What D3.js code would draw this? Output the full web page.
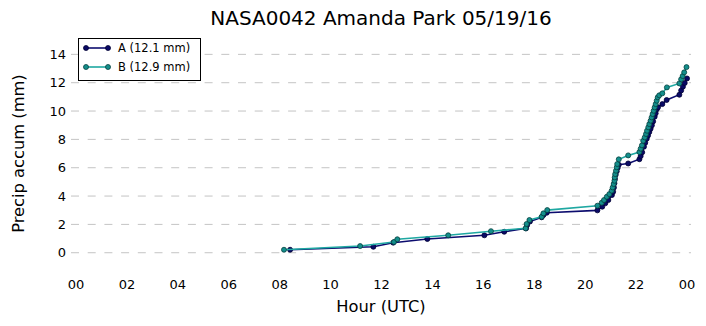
<!DOCTYPE html>
<html>
<head>
<meta charset="utf-8">
<script src="https://cdn.jsdelivr.net/npm/d3@7"></script>
<style>
  html, body { margin: 0; padding: 0; background: #fff; }
  svg { display: block; font-family: "DejaVu Sans", sans-serif; }
</style>
</head>
<body>
<svg id="chart" width="706" height="326"></svg>
<script>
// Gauge A accumulation: hour (UTC), accumulated precip (mm)
const hoursA = [8.41, 11.68, 12.46, 13.80, 16.04, 16.82, 17.68, 17.72, 17.83, 18.29, 18.36, 18.49,
  20.48, 20.67, 20.79, 20.91, 21.05, 21.10, 21.13, 21.15, 21.17, 21.20, 21.24, 21.28, 21.32,
  21.69, 22.13, 22.18, 22.24, 22.31, 22.36, 22.42, 22.47, 22.52, 22.57, 22.62, 22.67, 22.73,
  22.77, 22.81, 22.86, 23.03, 23.20, 23.70, 23.77, 23.84, 23.91, 24.00];
const precipA = [0.21, 0.42, 0.71, 0.97, 1.23, 1.48, 1.72, 1.95, 2.20, 2.50, 2.66, 2.82,
  2.99, 3.25, 3.49, 3.72, 4.07, 4.30, 4.60, 4.90, 5.20, 5.50, 5.75, 6.00, 6.21,
  6.30, 6.60, 6.82, 7.09, 7.48, 7.76, 8.05, 8.28, 8.52, 8.75, 8.99, 9.27, 9.60,
  9.84, 10.12, 10.26, 10.49, 10.78, 11.15, 11.45, 11.72, 11.98, 12.30];

// Gauge B accumulation
const hoursB = [8.17, 11.16, 12.49, 12.62, 14.62, 16.30, 17.66, 17.70, 17.81, 18.29, 18.36, 18.51,
  20.48, 20.65, 20.74, 20.85, 20.95, 21.04, 21.08, 21.12, 21.15, 21.16, 21.18, 21.21, 21.24,
  21.26, 21.32, 21.69, 22.13, 22.18, 22.23, 22.28, 22.34, 22.39, 22.43, 22.48, 22.52, 22.57,
  22.61, 22.65, 22.69, 22.73, 22.77, 22.81, 22.85, 22.91, 23.03, 23.21, 23.70, 23.77, 23.83,
  23.89, 23.98];
const precipB = [0.21, 0.47, 0.76, 0.95, 1.23, 1.52, 1.72, 2.03, 2.31, 2.54, 2.78, 3.01,
  3.32, 3.53, 3.72, 3.95, 4.14, 4.38, 4.61, 4.85, 5.08, 5.32, 5.55, 5.79, 6.03,
  6.26, 6.59, 6.87, 7.11, 7.34, 7.58, 7.90, 8.14, 8.38, 8.61, 8.85, 9.08, 9.32,
  9.55, 9.79, 10.02, 10.26, 10.49, 10.73, 10.97, 11.11, 11.25, 11.67, 11.95, 12.24, 12.47,
  12.73, 13.10];

const yTicks = [0, 2, 4, 6, 8, 10, 12, 14];
const xTicks = [0, 2, 4, 6, 8, 10, 12, 14, 16, 18, 20, 22, 24];
const xTickLabels = ["00", "02", "04", "06", "08", "10", "12", "14", "16", "18", "20", "22", "00"];

const titleText = "NASA0042 Amanda Park 05/19/16";

const series = [
  { name: "A", hours: hoursA, precip: precipA, line: "#0c0c6e", fill: "#0a0a66", edge: "#000033" },
  { name: "B", hours: hoursB, precip: precipB, line: "#1fa8a2", fill: "#148f8c", edge: "#06403f" }
];

const svg = d3.select("#chart");

const plotLeft = 71, plotRight = 691;
const x = d3.scaleLinear().domain([0, 24]).range([76, 687]);
const y = d3.scaleLinear().domain([-1, 15]).range([266.9, 40.2]);

// Horizontal dashed grid
svg.append("g").selectAll("line").data(yTicks).join("line")
  .attr("x1", plotLeft).attr("x2", plotRight)
  .attr("y1", d => y(d)).attr("y2", d => y(d))
  .attr("stroke", "#c4c4c4").attr("stroke-width", 1)
  .attr("stroke-dasharray", "8,8.7");

// Y tick labels
svg.append("g").selectAll("text").data(yTicks).join("text")
  .attr("x", 66).attr("y", d => y(d)).attr("dy", "0.36em")
  .attr("text-anchor", "end").attr("font-size", 13).attr("fill", "#000")
  .text(d => d);

// X tick labels
svg.append("g").selectAll("text").data(xTicks).join("text")
  .attr("x", d => x(d)).attr("y", 289)
  .attr("text-anchor", "middle").attr("font-size", 13).attr("fill", "#000")
  .text((d, i) => xTickLabels[i]);

// Axis titles
svg.append("text").attr("x", (plotLeft + plotRight) / 2).attr("y", 312)
  .attr("text-anchor", "middle").attr("font-size", 16.3).text("Hour (UTC)");
svg.append("text")
  .attr("transform", `translate(24,${(y(-1) + y(15)) / 2}) rotate(-90)`)
  .attr("text-anchor", "middle").attr("font-size", 16.3).text("Precip accum (mm)");

// Title
svg.append("text").attr("x", (plotLeft + plotRight) / 2).attr("y", 25)
  .attr("text-anchor", "middle").attr("font-size", 20).text(titleText);

// Series lines and markers
const lineGen = d3.line().x(d => x(d[0])).y(d => y(d[1]));
series.forEach(s => {
  const pts = s.hours.map((h, i) => [h, s.precip[i]]);
  const g = svg.append("g");
  g.append("path").datum(pts).attr("d", lineGen)
    .attr("fill", "none").attr("stroke", s.line).attr("stroke-width", 1.6);
  g.selectAll("circle").data(pts).join("circle")
    .attr("cx", d => x(d[0])).attr("cy", d => y(d[1])).attr("r", 2.5)
    .attr("fill", s.fill).attr("stroke", s.edge).attr("stroke-width", 0.8);
});

// Legend
const legend = svg.append("g");
legend.append("rect").attr("x", 78.5).attr("y", 38.5).attr("width", 122).attr("height", 42)
  .attr("fill", "#fff").attr("stroke", "#000").attr("stroke-width", 1);
series.forEach((s, i) => {
  const ly = 48 + i * 19;
  const total = s.precip[s.precip.length - 1] - s.precip[0];
  legend.append("line").attr("x1", 86).attr("x2", 108).attr("y1", ly).attr("y2", ly)
    .attr("stroke", s.line).attr("stroke-width", 1.6);
  [86, 108].forEach(cx => legend.append("circle").attr("cx", cx).attr("cy", ly).attr("r", 2.5)
    .attr("fill", s.fill).attr("stroke", s.edge).attr("stroke-width", 0.8));
  legend.append("text").attr("x", 118).attr("y", ly).attr("dy", "0.36em")
    .attr("font-size", 11.5).text(`${s.name} (${total.toFixed(1)} mm)`);
});
</script>
</body>
</html>
